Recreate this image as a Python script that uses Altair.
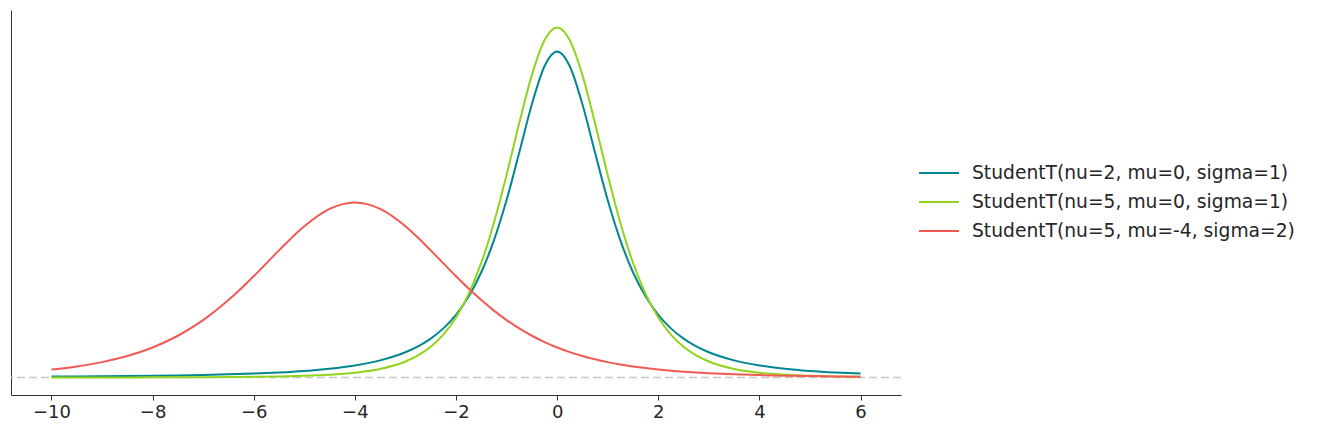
import altair as alt
import pandas as pd

x_vals = [-10, -9.5, -9, -8.5, -8, -7.5, -7, -6.5, -6, -5.5, -5, -4.5, -4, -3.5,
          -3, -2.75, -2.5, -2.25, -2, -1.75, -1.5, -1.25, -1, -0.75, -0.5, -0.25, 0,
          0.25, 0.5, 0.75, 1, 1.25, 1.5, 1.75, 2, 2.25, 2.5, 2.75, 3,
          3.5, 4, 4.5, 5, 5.5, 6]

pdf_nu2 = [0.000971, 0.001129, 0.001322, 0.001563, 0.001865, 0.002249, 0.002746, 0.003397,
           0.004269, 0.005460, 0.007128, 0.009528, 0.013095, 0.018590,
           0.027410, 0.033817, 0.042201, 0.053280, 0.068041, 0.087791, 0.114134, 0.148719,
           0.192450, 0.243784, 0.296296, 0.337605, 0.353553, 0.337605, 0.296296, 0.243784,
           0.192450, 0.148719, 0.114134, 0.087791, 0.068041, 0.053280, 0.042201, 0.033817,
           0.027410,
           0.018590, 0.013095, 0.009528, 0.007128, 0.005460, 0.004269]

pdf_nu5 = [0.000041, 0.000055, 0.000075, 0.000103, 0.000144, 0.000207, 0.000301, 0.000450,
           0.000689, 0.001083, 0.001757, 0.002948, 0.005124, 0.009244,
           0.017293, 0.023934, 0.033326, 0.046572, 0.065091, 0.090539, 0.124517, 0.167894,
           0.219680, 0.275693, 0.327918, 0.365718, 0.379607, 0.365718, 0.327918, 0.275693,
           0.219680, 0.167894, 0.124517, 0.090539, 0.065091, 0.046572, 0.033326, 0.023934,
           0.017293,
           0.009244, 0.005124, 0.002948, 0.001757, 0.001083, 0.000689]

pdf_shift = [0.008646, 0.011967, 0.016663, 0.023286, 0.032546, 0.045270, 0.062259, 0.083947,
             0.109840, 0.137847, 0.163959, 0.182859, 0.189804, 0.182859,
             0.163959, 0.151460, 0.137847, 0.123787, 0.109840, 0.096455, 0.083947, 0.072516,
             0.062259, 0.053190, 0.045270, 0.038421, 0.032546, 0.027536, 0.023286, 0.019693,
             0.016663, 0.014112, 0.011967, 0.010163, 0.008646, 0.007370, 0.006295, 0.005388,
             0.004622,
             0.003425, 0.002562, 0.001934, 0.001474, 0.001133, 0.000879]

series_names = ["StudentT(nu=2, mu=0, sigma=1)",
                "StudentT(nu=5, mu=0, sigma=1)",
                "StudentT(nu=5, mu=-4, sigma=2)"]
series_colors = ["#00878f", "#92d41c", "#f05a52"]
x_ticks = [-10, -8, -6, -4, -2, 0, 2, 4, 6]

rows = []
for i, (name, ys) in enumerate(zip(series_names, [pdf_nu2, pdf_nu5, pdf_shift])):
    for x, y in zip(x_vals, ys):
        rows.append({"x": x, "pdf": y, "dist": name, "order": i})
df = pd.DataFrame(rows)

xscale = alt.Scale(domain=[-10.8, 6.8], nice=False, zero=False)
yscale = alt.Scale(domain=[-0.019, 0.3986], nice=False, zero=False)
yaxis = alt.Axis(labels=False, ticks=False, grid=False, domainColor="#333333")

zero_line = alt.Chart(pd.DataFrame({"y0": [0.0]})).mark_rule(
    color="#c8c8c8", strokeDash=[8, 4], strokeWidth=1.5
).encode(y=alt.Y("y0:Q", scale=yscale, axis=yaxis, title=None))

lines = alt.Chart(df).mark_line(strokeWidth=2, interpolate="monotone").encode(
    x=alt.X("x:Q", scale=xscale, title=None,
            axis=alt.Axis(values=x_ticks, labelExpr="replace(format(datum.value, 'd'), '-', '−')",
                          grid=False, tickSize=5, tickColor="#333333", domainColor="#333333",
                          labelFontSize=18, labelColor="#262626", labelPadding=3,
                          labelFont="DejaVu Sans")),
    y=alt.Y("pdf:Q", scale=yscale, title=None, axis=yaxis),
    color=alt.Color("dist:N", scale=alt.Scale(domain=series_names, range=series_colors),
                    legend=alt.Legend(title=None, orient="none", legendX=909, legendY=144,
                                      symbolType="M-1.11,0H1.11", symbolSize=1296,
                                      symbolStrokeWidth=2,
                                      labelFontSize=18.7, labelColor="#262626", labelFont="DejaVu Sans",
                                      labelOffset=14, rowPadding=0, labelLimit=500)),
    order=alt.Order("order:Q"),
    detail="dist:N",
)

chart = alt.layer(zero_line, lines).properties(
    width=890, height=385,
    background="white",
    padding={"left": 11, "top": 10, "right": 417, "bottom": 39},
    autosize=alt.AutoSizeParams(type="none"),
).configure_view(stroke="transparent", strokeWidth=0)

chart.save("out.html", embed_options={"renderer": "svg", "actions": False})
